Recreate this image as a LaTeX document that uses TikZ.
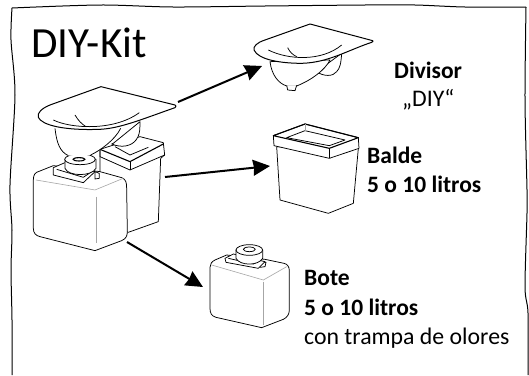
\documentclass[tikz,border=0pt]{standalone}
\usepackage{fontspec}
\setmainfont{Carlito}
\usetikzlibrary{arrows.meta}
\tikzset{
  zoomA/.style={x=0.3333pt,y=-0.3333pt},
  part/.style={draw=black,fill=white,line width=0.75pt,line join=round},
  ink/.style={draw=black,line width=0.75pt,line join=round},
  thick line/.style={draw=black,line width=1.1pt,line join=round},
  seam/.style={draw=black!35,line width=0.6pt},
  pointer/.style={draw=black,line width=2pt,-{Stealth[length=17pt,width=16pt,inset=1pt]}},
  title/.style={anchor=base west,inner sep=0pt,font=\fontsize{43}{43}\selectfont},
  boldlabel/.style={anchor=base west,inner sep=0pt,font=\fontsize{23.5}{26}\selectfont\bfseries},
  pluslabel/.style={anchor=base west,inner sep=0pt,font=\fontsize{23.8}{26}\selectfont},
}
\begin{document}
\begin{tikzpicture}[x=1pt,y=-1pt]
\useasboundingbox (0,0) rectangle (529,375);
\fill[white] (0,0) rectangle (529,375);
% hand-drawn frame
\draw[black,line width=1pt] plot[smooth,tension=0.5] coordinates {(12,375)(12,320)(11,270)(12,230)(10,185)(15,95)(11,40)(12,8)};
\draw[black,line width=1pt] plot[smooth,tension=0.5] coordinates {(12,8)(100,5)(173,7)(265,6)(365,5)(415,5)(465,7)(526,7)};
\draw[black,line width=1pt] plot[smooth,tension=0.5] coordinates {(526,7)(525,100)(527,190)(527,213)(525,287)(528,313)(528,375)};

% ---- assembled kit
\begin{scope}[zoomA]
 % bucket
 \path[part] (300,448)--(420,410)--(490,428)--(494,465)--(482,475)--(475,665)--(385,697)--(300,660)--cycle;
 \draw[ink] (300,448)--(300,470)--(390,510)--(494,465);
 \draw[thick line] (300,448)--(390,485)--(490,432);
 \draw[ink] (345,440)--(390,465)--(445,442);
 \draw[ink] (390,485)--(390,510);
 % jug
 \path[part] (160,497)--(110,517) .. controls (100,522) and (100,535) .. (100,545)
   --(100,685) .. controls (100,700) and (108,707) .. (120,710)
   --(285,752)--(365,722) .. controls (378,716) and (382,708) .. (382,695)
   --(380,565) .. controls (380,548) and (378,538) .. (365,533)--(300,515)--cycle;
 \draw[seam] (108,540)--(285,570)--(370,535);
 \draw[seam] (290,590)--(290,730);
 % collar
 \path[part] (285,515)--(298,520)--(298,535)--(285,537)--cycle;
 \path[part] (160,503)--(195,488)--(285,515)--(250,548)--(160,525)--cycle;
 \draw[ink] (170,508)--(250,532)--(275,515);
 % cap
 \path[part] (195,478)--(195,505) .. controls (205,530) and (275,530) .. (288,505)--(288,478)--cycle;
 \path[part] (240,478) ellipse [x radius=46,y radius=16];
 \draw[thick line] (237,478) ellipse [x radius=18,y radius=5];
 % funnel rear part
 \path[part] (340,430)--(420,365) .. controls (420,395) and (418,408) .. (408,420)
    .. controls (395,438) and (365,445) .. (335,432)--cycle;
 % bowl
 \fill[white] (165,385) .. controls (170,430) and (180,455) .. (205,467)
    --(272,465) .. controls (300,452) and (345,420) .. (362,385)--cycle;
 \draw[ink] (165,385) .. controls (170,430) and (180,455) .. (205,467);
 \draw[ink] (272,465) .. controls (300,452) and (345,420) .. (362,385);
 % plate
 \path[part,line width=1pt] (525,315)--(303,260)--(150,315)
   .. controls (125,325) and (110,340) .. (115,352)
   .. controls (125,375) and (190,392) .. (300,388)
   .. controls (360,385) and (420,360) .. (525,323)
   .. controls (529,320) and (529,317) .. (525,315)--cycle;
 \draw[ink] (160,360) .. controls (210,385) and (340,395) .. (418,338);
 \draw[ink] (225,345) .. controls (235,362) and (245,372) .. (258,380);
\end{scope}

% ---- divider alone
\begin{scope}[shift={(265pt,0pt)},zoomA]
 \path[part] (155,215)--(230,160) .. controls (228,190) and (225,205) .. (215,215)
    .. controls (205,230) and (175,230) .. (155,215)--cycle;
 \path[part] (15,185) .. controls (20,225) and (40,250) .. (65,258)--(95,258) .. controls (140,240) and (180,210) .. (195,180)--cycle;
 \path[part] (65,256)--(68,270)--(90,272)--(95,256);
 \path[part,line width=1pt] (323,122)--(135,72)--(0,120)
   .. controls (-25,128) and (-36,140) .. (-33,150)
   .. controls (-20,180) and (50,190) .. (110,190)
   .. controls (190,188) and (250,150) .. (320,127)
   .. controls (325,125) and (325,123) .. (323,122)--cycle;
 \draw[ink] (10,150) .. controls (70,180) and (170,185) .. (230,135);
 \draw[ink] (68,143) .. controls (75,158) and (85,165) .. (95,170);
\end{scope}

% ---- bucket alone
\begin{scope}[shift={(260pt,-115pt)},zoomA]
 \path[part] (50,95)--(60,255)--(205,295)--(280,265)--(295,100)--cycle;
 \path[part] (40,62)--(135,27)--(295,68)--(297,100)--(208,130)--(42,92)--cycle;
 \draw[thick line] (40,62)--(135,27)--(295,68)--(208,100)--cycle;
 \draw[ink] (80,68)--(135,47)--(255,75)--(208,92)--cycle;
 \draw[ink] (208,100)--(208,130);
 \draw[seam] (135,27)--(135,47);
\end{scope}

% ---- jug alone
\begin{scope}[shift={(190pt,-230pt)},zoomA]
 \path[part] (110,75)--(75,90) .. controls (65,95) and (60,102) .. (60,112)
   --(60,235) .. controls (60,250) and (65,258) .. (78,262)
   --(215,293)--(280,268) .. controls (292,262) and (298,252) .. (298,240)
   --(298,122) .. controls (298,110) and (292,102) .. (282,100)--(225,88)--cycle;
 \draw[seam] (65,105)--(220,150)--(290,110);
 \draw[seam] (220,155)--(220,285);
 \path[part] (210,95)--(228,97)--(225,110)--(210,112)--cycle;
 \path[part] (105,85)--(130,72)--(225,95)--(205,115)--(108,97)--cycle;
 \draw[ink] (115,85)--(190,102)--(205,95);
 \path[part] (138,60)--(138,85) .. controls (150,108) and (205,108) .. (218,85)--(218,60)--cycle;
 \path[part] (178,60) ellipse [x radius=40,y radius=16];
 \draw[ink] (178,58) ellipse [x radius=18,y radius=7];
\end{scope}

% ---- labels
\node[title] (kit) at (31,57) {DIY-Kit};
\node[boldlabel] (divisor) at (394,78) {Divisor};
\node[pluslabel] (diy) at (402,106) {„DIY“};
\node[boldlabel] (balde) at (367,163) {Balde};
\node[boldlabel] (baldesize) at (367,192) {5 o 10 litros};
\node[boldlabel] (bote) at (304,285) {Bote};
\node[boldlabel] (botesize) at (304,315) {5 o 10 litros};
\node[pluslabel] (trampa) at (304,344) {con trampa de olores};

% ---- connectors
\coordinate (a1s) at (178,102); \coordinate (a1e) at (262,66);
\coordinate (a2s) at (165,177); \coordinate (a2e) at (270,166);
\coordinate (a3s) at (127,242); \coordinate (a3e) at (203,287);
\draw[pointer] (a1s) -- (a1e);
\draw[pointer] (a2s) -- (a2e);
\draw[pointer] (a3s) -- (a3e);
\end{tikzpicture}
\end{document}
